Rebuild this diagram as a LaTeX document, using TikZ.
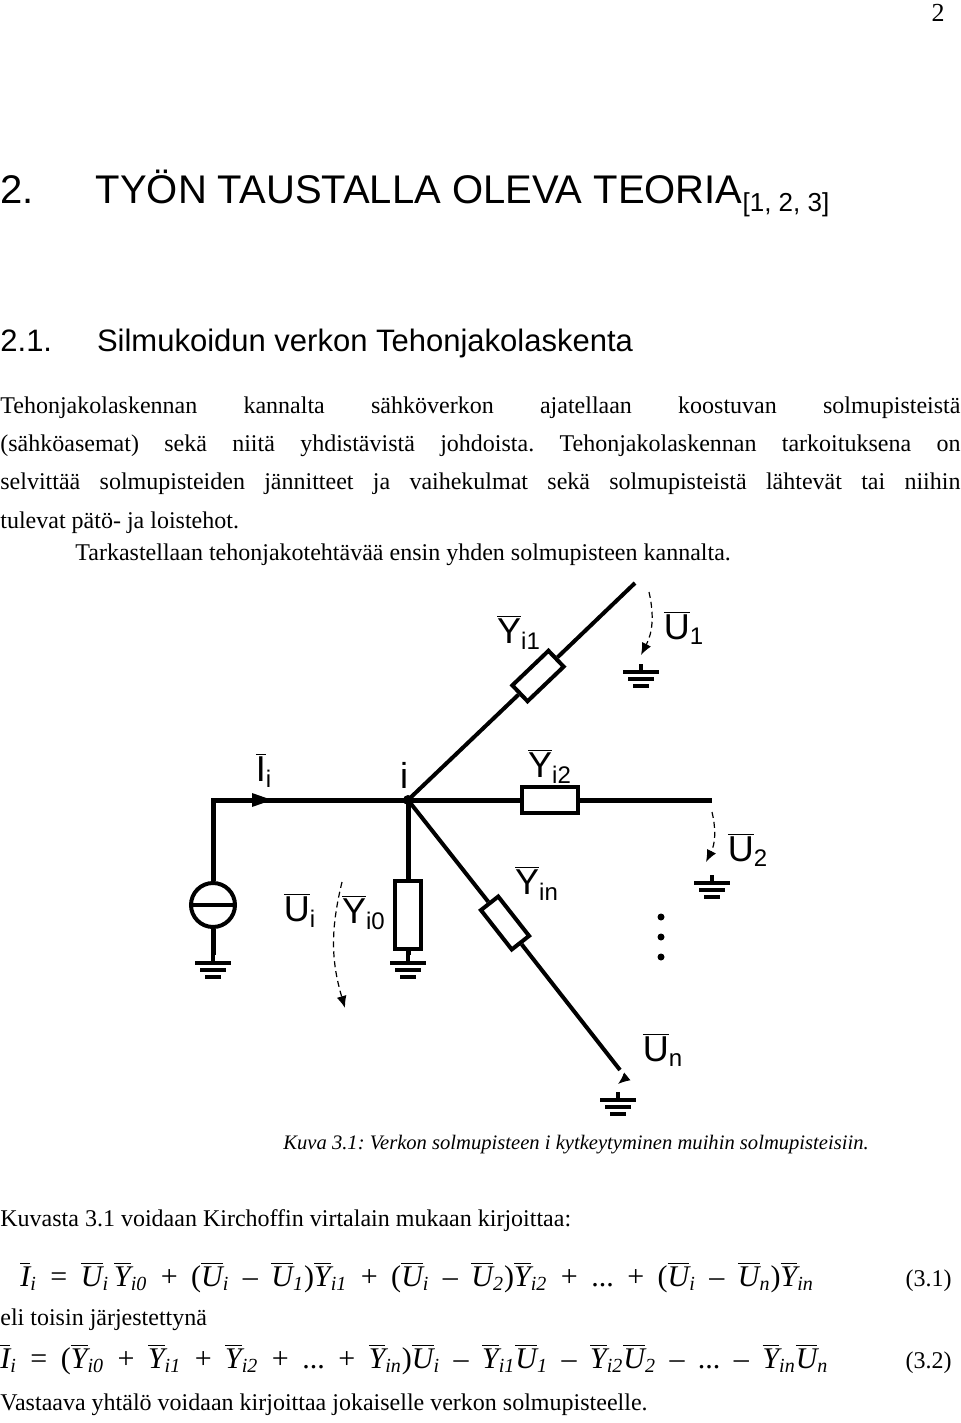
\documentclass[tikz,border=0pt]{standalone}
\usepackage{fontspec}
\setmainfont{Liberation Serif}
\setsansfont{Liberation Sans}
\usetikzlibrary{arrows.meta, positioning}
\frenchspacing

\newcommand\vb[2]{$\overline{\hbox{\itshape #1}}_{\hbox{\fontsize{10}{10}\selectfont\itshape #2}}$}
\newcommand\lb[2]{$\overline{\hbox{\sffamily #1}}_{\hbox{\fontsize{12}{12}\selectfont\sffamily #2}}$}
\newcommand\op[1]{\hspace{0.45em}#1\hspace{0.45em}}

\begin{document}
\begin{tikzpicture}[x=0.5pt, y=-0.5pt]
    \tikzset{wire/.style = {line width=2.5pt},
             thinwire/.style = {line width=2pt},
             res/.style = {draw, line width=2pt, fill=white, minimum width=25pt, minimum height=11pt, inner sep=0pt},
             volt/.style = {densely dashed, line width=0.6pt, -{Latex[length=6pt,width=5pt]}},
             lbl/.style = {font=\sffamily\fontsize{18}{18}\selectfont, inner sep=0pt},
             body/.style = {anchor=base west, inner sep=0pt, font=\fontsize{12}{19}\selectfont},
             ground/.pic = {\draw[line width=2pt] (0,-8) -- (0,0) (-18,0) -- (18,0) (-13,7) -- (13,7) (-8,14) -- (8,14);}}
    \useasboundingbox (0,0) rectangle (960,1423);

    % page text
    \node[anchor=north east, inner sep=0pt, font=\fontsize{13}{13}\selectfont] (page) at (945,4) {2};
    \node[body, font=\sffamily\fontsize{20}{20}\selectfont] (h1) at (0,204) {2.\hspace{1.55em}TYÖN TAUSTALLA OLEVA TEORIA\raisebox{-0.35ex}{\fontsize{13}{13}\selectfont[1, 2, 3]}};
    \node[body, font=\sffamily\fontsize{15.5}{16}\selectfont] (h2) at (0,351) {2.1.\hspace{1.45em}Silmukoidun verkon Tehonjakolaskenta};
    \node[anchor=north west, inner sep=0pt, text width=480pt, align=justify, font=\fontsize{12}{19.2}\selectfont] (par) at (0,396)
        {Tehonjakolaskennan kannalta sähköverkon ajatellaan koostuvan solmupisteistä\linebreak (sähköasemat) sekä niitä yhdistävistä johdoista. Tehonjakolaskennan tarkoituksena on\linebreak selvittää solmupisteiden jännitteet ja vaihekulmat sekä solmupisteistä lähtevät tai niihin\linebreak tulevat pätö- ja loistehot.};
    \node[body] (par2) at (75,560) {Tarkastellaan tehonjakotehtävää ensin yhden solmupisteen kannalta.};

    % circuit
    \coordinate (src) at (213,800);
    \coordinate (node) at (408,800);
    \coordinate (end1) at (635,583);
    \coordinate (end2) at (712,800);
    \coordinate (endn) at (620,1070);
    \node[res, minimum width=28pt, minimum height=13pt] (y2) at (550,800) {};
    \node[res, rotate=43.7] (y1) at (538,676) {};
    \node[res, rotate=-51.9] (yn) at (505,923) {};
    \node[res, minimum width=13pt, minimum height=34pt] (y0) at (408,915) {};
    \node[draw, circle, line width=2pt, minimum size=22pt, inner sep=0pt] (gen) at (213,905) {};
    \draw[line width=2pt] (gen.west) -- (gen.east);
    \pic at (213,963) {ground};
    \pic at (408,963) {ground};
    \pic at (641,672) {ground};
    \pic at (712,883) {ground};
    \pic at (618,1100) {ground};
    \coordinate (g0) at (213,955);
    \coordinate (gy) at (408,955);

    \draw[wire] (gen.north) -- (src) -- (node) -- (y2) -- (end2);
    \draw[wire] (gen.south) -- (g0);
    \draw[wire] (node) -- (y0) -- (gy);
    \draw[thinwire] (node) -- (y1) -- (end1);
    \draw[thinwire] (node) -- (yn) -- (endn);
    \fill (node) circle (5);
    \fill (252,793) -- (272,800) -- (252,807) -- cycle;

    \draw[volt] (649,592) to[bend left=20] (641,655);
    \draw[volt] (712,812) to[bend left=20] (706,862);
    \draw[volt] (624,1074) to[bend left=20] (618,1084);
    \draw[volt] (342,882) to[bend right=15] (345,1008);
    \foreach \yy in {917,937,957} \fill (661,\yy) circle (3.5);

    \node[lbl] (li) at (264,770) {\lb{I}{i}};
    \node[lbl] (ln) at (404,775) {i};
    \node[lbl] (l1) at (519,632) {\lb{Y}{i1}};
    \node[lbl] (lu1) at (684,628) {\lb{U}{1}};
    \node[lbl] (l2) at (550,766) {\lb{Y}{i2}};
    \node[lbl] (lu2) at (748,850) {\lb{U}{2}};
    \node[lbl] (lyn) at (537,883) {\lb{Y}{in}};
    \node[lbl] (ly0) at (364,912) {\lb{Y}{i0}};
    \node[lbl] (lui) at (300,910) {\lb{U}{i}};
    \node[lbl] (lun) at (663,1050) {\lb{U}{n}};

    % caption and equations
    \node[body, font=\itshape\fontsize{10.3}{12}\selectfont] (cap) at (283,1149) {Kuva 3.1: Verkon solmupisteen i kytkeytyminen muihin solmupisteisiin.};
    \node[body] (kv) at (0,1226) {Kuvasta 3.1 voidaan Kirchoffin virtalain mukaan kirjoittaa:};
    \node[body, font=\fontsize{15}{15}\selectfont] (eq1) at (20,1286)
        {\vb{I}{i}\op{=}\vb{U}{i}\,\vb{Y}{i0}\op{+}(\vb{U}{i}\op{--}\vb{U}{1})\vb{Y}{i1}\op{+}(\vb{U}{i}\op{--}\vb{U}{2})\vb{Y}{i2}\op{+}...\op{+}(\vb{U}{i}\op{--}\vb{U}{n})\vb{Y}{in}};
    \node[anchor=base east, inner sep=0pt, font=\fontsize{12}{12}\selectfont] (n1) at (952,1286) {(3.1)};
    \node[body] (et) at (0,1325) {eli toisin järjestettynä};
    \node[body, font=\fontsize{15}{15}\selectfont] (eq2) at (0,1368)
        {\vb{I}{i}\op{=}(\vb{Y}{i0}\op{+}\vb{Y}{i1}\op{+}\vb{Y}{i2}\op{+}...\op{+}\vb{Y}{in})\vb{U}{i}\op{--}\vb{Y}{i1}\vb{U}{1}\op{--}\vb{Y}{i2}\vb{U}{2}\op{--}...\op{--}\vb{Y}{in}\vb{U}{n}};
    \node[anchor=base east, inner sep=0pt, font=\fontsize{12}{12}\selectfont] (n2) at (952,1368) {(3.2)};
    \node[body] (last) at (0,1410) {Vastaava yhtälö voidaan kirjoittaa jokaiselle verkon solmupisteelle.};
\end{tikzpicture}
\end{document}
